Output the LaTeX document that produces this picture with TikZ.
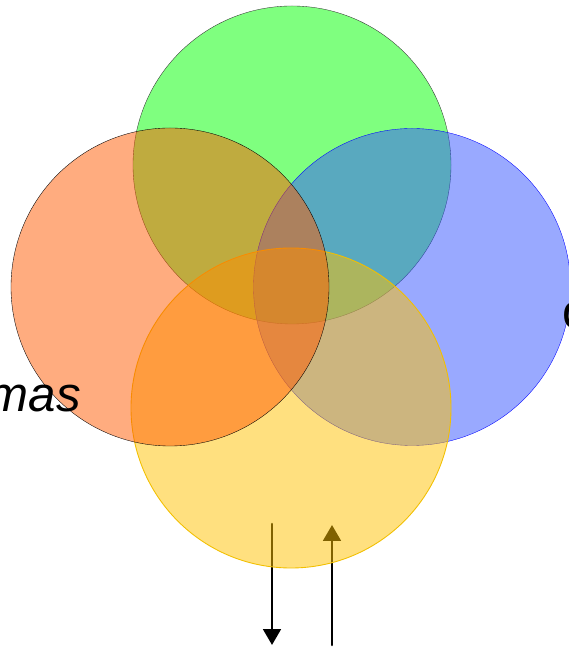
\documentclass[tikz,border=0pt]{standalone}
\usepackage{fontspec}
\setsansfont{Liberation Sans}
\usetikzlibrary{arrows.meta,calc}
\usepackage{tkz-euclide}
\definecolor{GreenClr}{rgb}{0,1,0}
\definecolor{BlueClr}{rgb}{0.2,0.33,1}
\definecolor{YellowClr}{rgb}{1,0.76,0}
\definecolor{OrangeClr}{rgb}{1,0.35,0}
\definecolor{YellowLine}{rgb}{0.95,0.75,0}

\begin{document}
\begin{tikzpicture}
\useasboundingbox (0,0) rectangle (11.36,13);
\tkzSetUpLine[line width=0.8pt,color=black]

% centres and one point on each circle
\tkzDefPoints{5.84/9.70/G,8.24/7.26/B,5.82/4.84/Y,3.40/7.26/O}
\tkzDefPoints{5.84/12.88/G1,8.24/10.43/B1,5.82/8.04/Y1,3.40/10.44/O1}
% arrow ends
\tkzDefPoints{5.44/2.52/A,5.44/0.10/A1,6.64/0.10/C,6.64/2.50/C1}

\tkzDrawSegments[line width=1.5pt,-{Triangle[width=10pt,length=9pt]}](A,A1 C,C1)

\tkzFillCircle[fill=GreenClr,opacity=.5](G,G1)
\tkzDrawCircle[color=black!80](G,G1)
\tkzFillCircle[fill=BlueClr,opacity=.5](B,B1)
\tkzDrawCircle[color=blue](B,B1)
\tkzFillCircle[fill=YellowClr,opacity=.5](Y,Y1)
\tkzDrawCircle[line width=0.5pt,color=YellowLine](Y,Y1)
\tkzFillCircle[fill=OrangeClr,opacity=.5](O,O1)
\tkzDrawCircle[color=black](O,O1)

\node[font=\sffamily\itshape\fontsize{28}{32}\selectfont,anchor=base east,inner sep=0pt] (mas) at (1.62,4.76) {mas};
\node[font=\sffamily\fontsize{28}{32}\selectfont,anchor=base west,inner sep=0pt] (rgt) at (11.24,6.42) {o};

\end{tikzpicture}
\end{document}
